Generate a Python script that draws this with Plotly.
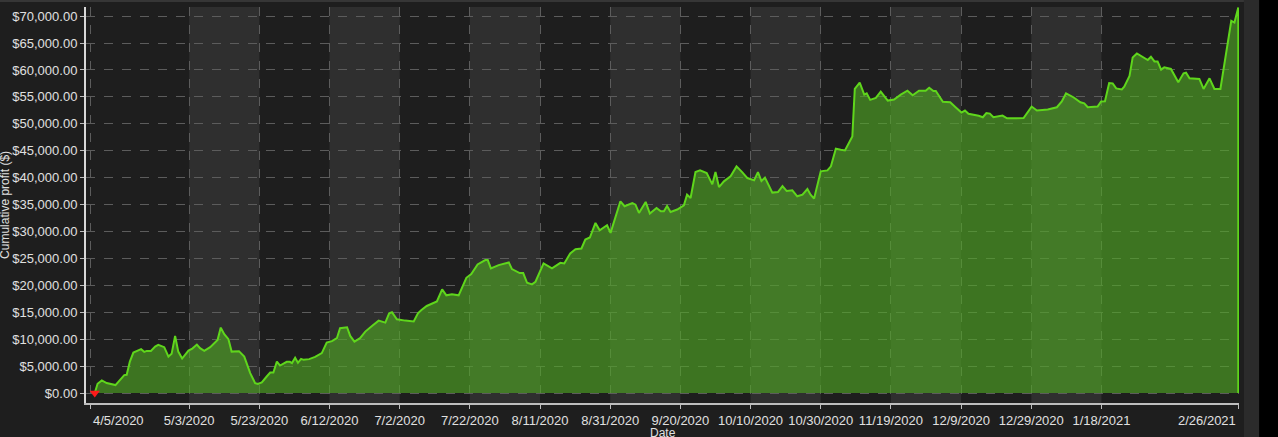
import pandas as pd
import plotly.graph_objects as go

START = pd.Timestamp("2020-04-05")

# days after START
day_offset = [
    1.1, 1.9, 3.1, 4.5, 7.0, 8.8, 9.5, 10.2, 11.1, 12.1, 13.5, 14.3, 15.2, 15.9,
    17.1, 18.3, 19.2, 20.9, 22.1, 23.0, 24.0, 24.9, 26.0, 27.8, 28.9, 30.2, 31.1,
    32.3, 34.0, 36.1, 37.0, 38.0, 39.2, 40.1, 42.2, 43.7, 45.4, 46.8, 47.6, 48.7,
    50.1, 51.1, 52.0, 53.0, 53.9, 55.1, 55.8, 56.7, 57.3, 58.2, 59.0, 59.9, 60.6,
    62.2, 63.9, 65.8, 67.2, 68.7, 70.1, 71.0, 73.0, 73.9, 75.1, 76.7, 78.2, 80.1,
    82.0, 83.9, 85.0, 85.8, 87.2, 89.6, 92.0, 93.2, 94.2, 95.7, 98.6, 100.1, 101.3,
    102.9, 104.8, 107.0, 108.4, 110.2, 112.4, 113.1, 114.0, 116.2, 119.1, 120.0,
    122.2, 123.2, 124.3, 125.7, 126.7, 129.0, 131.4, 133.8, 134.9, 136.6, 138.1,
    139.8, 140.9, 142.2, 143.8, 145.0, 147.1, 148.1, 150.9, 152.1, 154.3, 155.2,
    156.2, 158.1, 159.3, 161.2, 162.4, 163.3, 164.2, 165.2, 167.1, 169.0, 169.9,
    170.9, 172.3, 173.6, 175.5, 177.1, 178.0, 179.0, 180.4, 182.3, 184.0, 185.6,
    187.1, 189.0, 190.1, 191.1, 192.1, 194.2, 195.8, 197.1, 198.3, 199.9, 201.3,
    202.8, 204.2, 205.1, 206.1, 208.0, 209.9, 210.9, 212.3, 213.7, 214.9, 217.0,
    217.7, 219.1, 220.4, 221.1, 222.1, 223.7, 225.1, 227.1, 228.9, 230.8, 232.7,
    234.2, 236.0, 237.9, 238.9, 240.1, 240.8, 242.8, 244.9, 246.5, 248.1, 249.1,
    250.1, 253.0, 254.2, 255.2, 256.2, 257.2, 259.8, 261.1, 263.0, 265.8, 268.1,
    269.6, 272.7, 275.3, 276.7, 277.9, 280.0, 282.0, 283.1, 284.1, 286.9, 287.9,
    289.0, 290.2, 291.2, 292.2, 293.8, 294.5, 296.0, 296.9, 298.1, 299.8, 301.2,
    302.1, 303.1, 304.0, 305.0, 305.9, 307.8, 309.9, 311.4, 312.1, 313.1, 315.9,
    317.1, 318.8, 320.2, 321.9, 325.0, 325.9, 327.0, 327.0,
]

cum_profit = [
    0, 1720, 2340, 1850, 1480, 2700, 3330, 3390, 5850, 7520, 8020, 8150, 7650, 7830,
    7830, 8630, 8940, 8520, 6780, 7280, 10610, 7700, 6410, 7890, 8260, 9000, 8330,
    7830, 8520, 9870, 12150, 10930, 10000, 7700, 7780, 6780, 3700, 1850, 1670, 1960,
    3070, 3810, 3810, 5850, 5110, 5560, 5800, 5800, 5560, 6540, 5610, 6350, 6170,
    6300, 6720, 7410, 9370, 9630, 10190, 12040, 12220, 10610, 9560, 10190, 11410, 12460,
    13450, 13080, 14820, 15000, 13700, 13450, 13300, 14800, 15430, 16170, 17000, 19260, 18150,
    18330, 18150, 21410, 22090, 23890, 24690, 24690, 23150, 23760, 24260, 23020,
    22280, 22280, 20480, 20190, 20670, 24080, 23150, 24190, 24080, 25930, 26720,
    26850, 28520, 28890, 31600, 30240, 31170, 29740, 35610, 34690, 35300, 35000,
    33450, 35490, 33340, 34370, 33760, 33760, 34740, 33630, 34080, 34870, 36850,
    36220, 41040, 41350, 40850, 38760, 41040, 38260, 39320, 40240, 42100, 41040,
    39930, 39500, 41040, 39380, 40000, 37230, 37340, 38450, 37520, 37650, 36540,
    36850, 37890, 36850, 36110, 41170, 41350, 42100, 45370, 45190, 45060, 47650,
    56490, 57650, 55430, 55680, 54450, 54820, 55990, 54320, 54500, 55430, 56150,
    55300, 56150, 56150, 56700, 56080, 56100, 54100, 54000, 53050, 52100, 52470,
    51880, 51500, 51230, 52000, 51900, 51230, 51540, 51020, 51020, 51080, 53210,
    52470, 52650, 53080, 54160, 55680, 54940, 54000, 53820, 53080, 53210, 54160,
    54200, 57560, 57520, 56580, 56400, 56910, 58900, 62340, 63080, 62470, 61850,
    62470, 61600, 61600, 60060, 60490, 60190, 57710, 59380, 59500, 58450, 58340,
    56490, 58450, 56490, 56490, 69130, 68820, 71600, 0,
]

tick_dates = [
    "2020-04-05", "2020-05-03", "2020-05-23", "2020-06-12", "2020-07-02",
    "2020-07-22", "2020-08-11", "2020-08-31", "2020-09-20", "2020-10-10",
    "2020-10-30", "2020-11-19", "2020-12-09", "2020-12-29", "2021-01-18",
    "2021-02-26",
]
tick_labels = [
    "4/5/2020", "5/3/2020", "5/23/2020", "6/12/2020", "7/2/2020", "7/22/2020",
    "8/11/2020", "8/31/2020", "9/20/2020", "10/10/2020", "10/30/2020",
    "11/19/2020", "12/9/2020", "12/29/2020", "1/18/2021", "2/26/2021",
]

dates = START + pd.to_timedelta(day_offset, unit="D")

TEXT = "#e0e0e0"
GRID = "#5c5c5c"
FONT = "Liberation Sans, Arial, sans-serif"
FS = 13

fig = go.Figure()

fig.add_trace(go.Scatter(
    x=dates, y=cum_profit, mode="lines",
    fill="tozeroy", fillcolor="rgba(80,170,35,0.62)",
    line=dict(color="#5fd61c", width=2),
    showlegend=False, hoverinfo="skip",
))
# start marker
fig.add_trace(go.Scatter(
    x=[dates[0]], y=[cum_profit[0]], mode="markers",
    marker=dict(symbol="triangle-down", color="#ff1a1a", size=9),
    showlegend=False, hoverinfo="skip",
))

# alternating shaded date bands
shapes = []
for i in range(1, len(tick_dates) - 1, 2):
    shapes.append(dict(
        type="rect", xref="x", yref="paper",
        x0=tick_dates[i], x1=tick_dates[i + 1], y0=0, y1=1,
        fillcolor="#2f2f2f", line_width=0, layer="below",
    ))
# frame pieces round the chart
shapes += [
    dict(type="rect", xref="paper", yref="paper", x0=1.0043, x1=1.0175,
         y0=-0.2, y1=1.1, fillcolor="#2b2b2b", line_width=0, layer="below"),
    dict(type="rect", xref="paper", yref="paper", x0=1.0175, x1=1.05,
         y0=-0.2, y1=1.1, fillcolor="#000000", line_width=0, layer="below"),
    dict(type="rect", xref="paper", yref="paper", x0=-0.1, x1=1.0043,
         y0=1.0126, y1=1.03, fillcolor="#363636", line_width=0, layer="below"),
]

# first and last date labels sit inside the axis ends
shown_text = [""] + tick_labels[1:-1] + [""]
annotations = [
    dict(text=tick_labels[0], x=tick_dates[0], y=-0.019, xref="x", yref="paper",
         xanchor="left", yanchor="top", showarrow=False,
         font=dict(size=FS, color=TEXT)),
    dict(text=tick_labels[-1], x=tick_dates[-1], y=-0.019, xref="x", yref="paper",
         xanchor="right", yanchor="top", showarrow=False,
         font=dict(size=FS, color=TEXT)),
    dict(text="Cumulative profit ($)", textangle=-90, x=-0.0703, y=0.5,
         xref="paper", yref="paper", xanchor="center", yanchor="middle",
         showarrow=False, font=dict(size=12, color=TEXT)),
    dict(text="Date", x=0.5, y=-0.077, xref="paper", yref="paper",
         xanchor="center", yanchor="middle", showarrow=False,
         font=dict(size=12, color=TEXT)),
]

fig.update_layout(
    width=1278, height=437,
    margin=dict(l=86, r=39, t=7, b=34),
    paper_bgcolor="#1e1e1e", plot_bgcolor="#1e1e1e",
    font=dict(family=FONT, size=FS, color=TEXT),
    shapes=shapes,
    annotations=annotations,
)

fig.update_xaxes(
    type="date",
    range=[START - pd.Timedelta(days=1.4), START + pd.Timedelta(days=327.2)],
    tickmode="array", tickvals=tick_dates, ticktext=shown_text,
    showgrid=True, gridcolor=GRID, griddash="dash", gridwidth=1,
    showline=True, linecolor="#bdbdbd", linewidth=2,
    ticks="outside", ticklen=4, tickcolor="#bdbdbd",
    tickfont=dict(size=FS, color=TEXT), zeroline=False,
)
fig.update_yaxes(
    range=[-1850, 71700],
    tickmode="linear", tick0=0, dtick=5000,
    tickprefix="$", tickformat=",.2f",
    showgrid=True, gridcolor=GRID, griddash="dash", gridwidth=1,
    showline=True, linecolor="#d8d8d8", linewidth=2,
    ticks="outside", ticklen=4, tickcolor="#bdbdbd",
    tickfont=dict(size=FS, color=TEXT), zeroline=False,
)

fig.write_html(
    "out.html",
    config={"displayModeBar": False},
    post_script="document.body.style.margin='0';document.body.style.background='#1e1e1e';",
)
